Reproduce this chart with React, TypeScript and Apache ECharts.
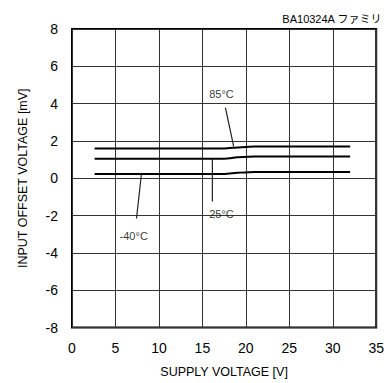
import React, { useEffect, useRef } from "react";
import * as echarts from "echarts";

const FONT = "'Liberation Sans', Arial, 'Noto Sans CJK JP', sans-serif";

const xTicks = [0, 5, 10, 15, 20, 25, 30, 35];
const yTicks = [-8, -6, -4, -2, 0, 2, 4, 6, 8];

const supplyV = [2.6, 17.5, 19, 21, 32];
const offset85 = [1.6, 1.6, 1.65, 1.7, 1.7];
const offset25 = [1.05, 1.05, 1.12, 1.17, 1.17];
const offsetM40 = [0.23, 0.23, 0.29, 0.34, 0.34];

const leader85 = [[17.65, 3.78], [18.6, 1.71]];
const leader25 = [[16.15, 1.07], [16.15, -1.24]];
const leaderM40 = [[7.98, 0.19], [7.42, -2.16]];

const tempLabels = [
  { name: "85°C", value: [17.2, 4.53] },
  { name: "25°C", value: [17.2, -1.89] },
  { name: "-40°C", value: [7.1, -3.08] },
];

export default function App() {
  const ref = useRef<HTMLDivElement>(null);
  useEffect(() => {
    const chart = echarts.init(ref.current!, null, { renderer: "svg" });
    const curve = (ys: number[]) => ({
      type: "line",
      data: supplyV.map((x, i) => [x, ys[i]]),
      showSymbol: false,
      smooth: 0.3,
      lineStyle: { color: "#000", width: 2 },
    });
    const leader = (pts: number[][]) => ({
      type: "line",
      data: pts,
      showSymbol: false,
      lineStyle: { color: "#222", width: 1.2 },
    });
    chart.setOption({
      animation: false,
      textStyle: { fontFamily: FONT },
      title: {
        text: "BA10324A ファミリ",
        right: 0,
        top: 8,
        textStyle: { fontSize: 11, fontWeight: "normal", color: "#000", fontFamily: FONT },
      },
      grid: {
        left: 72,
        right: 5,
        top: 29,
        bottom: 52,
        show: true,
        borderColor: "#000",
        borderWidth: 2,
      },
      xAxis: {
        type: "value",
        min: xTicks[0],
        max: xTicks[xTicks.length - 1],
        interval: 5,
        name: "SUPPLY VOLTAGE [V]",
        nameLocation: "middle",
        nameGap: 38,
        nameTextStyle: { fontSize: 12.5, color: "#000", fontFamily: FONT },
        axisLine: { show: false },
        axisTick: { show: false },
        axisLabel: { fontSize: 14, color: "#000", margin: 13, fontFamily: FONT },
        splitLine: { show: true, lineStyle: { color: "#333", width: 1 } },
      },
      yAxis: {
        type: "value",
        min: yTicks[0],
        max: yTicks[yTicks.length - 1],
        interval: 2,
        name: "INPUT OFFSET VOLTAGE [mV]",
        nameLocation: "middle",
        nameGap: 43,
        nameTextStyle: { fontSize: 12.5, color: "#000", fontFamily: FONT },
        axisLine: { show: false },
        axisTick: { show: false },
        axisLabel: { fontSize: 14, color: "#000", margin: 14, fontFamily: FONT },
        splitLine: { show: true, lineStyle: { color: "#333", width: 1 } },
      },
      series: [
        curve(offset85),
        curve(offset25),
        curve(offsetM40),
        leader(leader85),
        leader(leader25),
        leader(leaderM40),
        {
          type: "scatter",
          symbolSize: 0,
          data: tempLabels,
          label: {
            show: true,
            position: "inside",
            formatter: (p: any) => p.name,
            fontSize: 11,
            color: "#000",
            fontFamily: FONT,
          },
        },
      ],
    });
    return () => chart.dispose();
  }, []);
  return (
    <div
      ref={ref}
      style={{ position: "absolute", left: 0, top: 0, width: 387, height: 383 }}
    />
  );
}
